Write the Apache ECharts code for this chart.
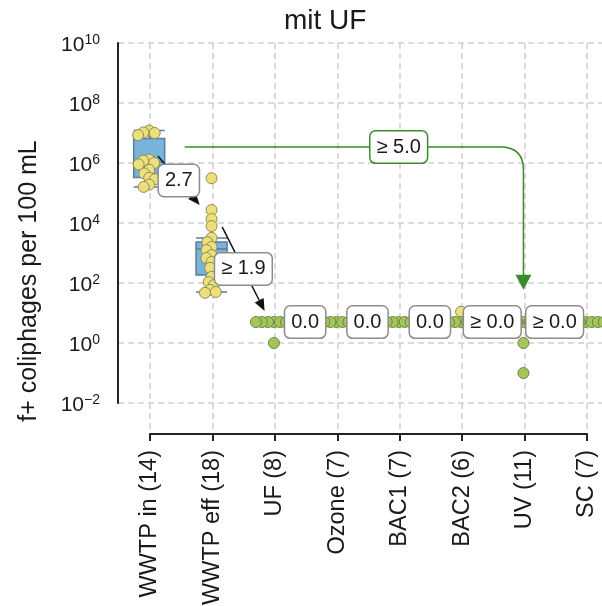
<!DOCTYPE html>
<html>
<head>
<meta charset="utf-8">
<script src="https://cdn.jsdelivr.net/npm/echarts@6/dist/echarts.min.js"></script>
<style>
  html, body { margin: 0; padding: 0; background: #fff; }
  #chart { width: 602px; height: 606px; }
</style>
</head>
<body>
<div id="chart"></div>
<script>
// Treatment train stages, with sample counts
const categories = ['WWTP in (14)', 'WWTP eff (18)', 'UF (8)', 'Ozone (7)', 'BAC1 (7)', 'BAC2 (6)', 'UV (11)', 'SC (7)'];

// Box statistics per stage: [lower whisker, Q1, median, Q3, upper whisker] (per 100 mL)
const boxWwtpIn  = [1.6e5, 3.3e5, 1.1e6, 6.6e6, 1.2e7];
const boxWwtpEff = [50, 186, 1350, 2340, 3160];
const boxUF      = [5, 5, 5, 5, 5];
const boxOzone   = [5, 5, 5, 5, 5];
const boxBAC1    = [5, 5, 5, 5, 5];
const boxBAC2    = [5, 5, 5, 5, 5];
const boxUV      = [5, 5, 5, 5, 5];
const boxSC      = [5, 5, 5, 5, 5];

// Detected samples (per 100 mL)
const detWwtpIn = [1.2e7, 1.05e7, 1.0e7, 8.5e6, 1.3e6, 1.2e6, 1.0e6, 9.0e5, 5.9e5, 4.5e5, 3.2e5, 2.9e5, 1.9e5, 1.6e5];
const detWwtpEff = [3.1e5, 2.7e4, 1.35e4, 7.9e3, 3.2e3, 2.3e3, 1.6e3, 1.25e3, 850, 680, 500, 320, 160, 107, 85, 59, 50, 47];
const detBAC2 = [11];

// Non-detects, plotted at their detection limit (per 100 mL)
const ndUF    = [5, 5, 5, 5, 5, 5, 5, 1];
const ndOzone = [5, 5, 5, 5, 5, 5, 5];
const ndBAC1  = [5, 5, 5, 5, 5, 5, 5];
const ndBAC2  = [5, 5, 5, 5, 5];
const ndUV    = [5, 5, 5, 5, 5, 5, 5, 5, 5, 1, 0.1];
const ndSC    = [5, 5, 5, 5, 5, 5, 5];

// Log reduction between consecutive stages: arrow start/end (stage position, concentration)
const stepFromX = [0.14, 1.17, 2.14, 3.14, 4.14, 5.14, 6.14];
const stepFromY = [1.7e6, 7.4e3, 5, 5, 5, 5, 5];
const stepToX   = [0.81, 1.85, 2.86, 3.86, 4.86, 5.86, 6.86];
const stepToY   = [4.0e4, 11.7, 5, 5, 5, 5, 5];
const stepText  = ['2.7', '\u2265 1.9', '0.0', '0.0', '0.0', '\u2265 0.0', '\u2265 0.0'];

// Overall reduction WWTP in -> UV
const overallFrom = [0.57, 3.4e6];
const overallTo   = [6, 59];
const overallLabelX = 4;
const overallText = '\u2265 5.0';

const FONT = '"Liberation Sans", Arial, Helvetica, sans-serif';
const INK = '#1a1a1a';
const GRID_LINE = { color: '#cfcfcf', width: 1.5, type: [6, 4] };

const boxData = [boxWwtpIn, boxWwtpEff, boxUF, boxOzone, boxBAC1, boxBAC2, boxUV, boxSC];

const detectedPoints = []
  .concat(detWwtpIn.map(v => [categories[0], v]))
  .concat(detWwtpEff.map(v => [categories[1], v]))
  .concat(detBAC2.map(v => [categories[5], v]));

const nonDetectPoints = []
  .concat(ndUF.map(v => [categories[2], v]))
  .concat(ndOzone.map(v => [categories[3], v]))
  .concat(ndBAC1.map(v => [categories[4], v]))
  .concat(ndBAC2.map(v => [categories[5], v]))
  .concat(ndUV.map(v => [categories[6], v]))
  .concat(ndSC.map(v => [categories[7], v]));

const stepData = stepFromX.map((x, i) => [x, stepFromY[i], stepToX[i], stepToY[i]]);

function arrowHead(tip, ux, uy, len, half) {
  const bx = tip[0] - ux * len, by = tip[1] - uy * len;
  return {
    base: [bx, by],
    points: [[tip[0], tip[1]], [bx - uy * half, by + ux * half], [bx + uy * half, by - ux * half]]
  };
}

function boxLabel(x, y, text, border) {
  return {
    type: 'text', x: x, y: y, z2: 10,
    style: {
      text: text, align: 'center', verticalAlign: 'middle',
      fontSize: 20, fontFamily: FONT, fill: INK,
      backgroundColor: '#fff', borderColor: border, borderWidth: 1.5, borderRadius: 5,
      padding: [6, 6, 5, 6]
    }
  };
}

const chart = echarts.init(document.getElementById('chart'), null, { renderer: 'canvas' });

chart.setOption({
  animation: false,
  backgroundColor: '#fff',
  title: {
    text: 'mit UF', left: 279, top: 2,
    textStyle: { fontSize: 28, fontWeight: 'normal', color: INK, fontFamily: FONT }
  },
  grid: [
    { left: 118, top: 43, right: -15, bottom: 203, containLabel: false, outerBoundsMode: 'none' },
    { left: 150, top: 43, right: 15, bottom: 172, containLabel: false, outerBoundsMode: 'none' }
  ],
  xAxis: [
    {
      type: 'category', gridIndex: 0, data: categories, boundaryGap: true,
      axisLine: { show: false }, axisTick: { show: false }, axisLabel: { show: false },
      splitLine: { show: false },
      jitter: 40, jitterOverlap: false, jitterMargin: -5
    },
    { type: 'value', gridIndex: 0, min: -0.5, max: 7.5, show: false },
    {
      type: 'category', gridIndex: 1, data: categories, boundaryGap: false,
      axisLine: { show: true, lineStyle: { color: '#222', width: 2 } },
      axisTick: { show: true, interval: 0, length: 7, lineStyle: { color: '#222', width: 2 } },
      axisLabel: { rotate: 90, interval: 0, margin: 16, fontSize: 23.5, color: INK, fontFamily: FONT },
      splitLine: { show: true, interval: 0, lineStyle: GRID_LINE }
    }
  ],
  yAxis: [
    {
      type: 'log', gridIndex: 0, logBase: 10, min: 0.01, max: 1e10, interval: 2,
      axisLine: { show: true, onZero: false, lineStyle: { color: '#222', width: 2 } },
      axisTick: { show: false },
      splitLine: { show: true, lineStyle: GRID_LINE },
      axisLabel: {
        margin: 18,
        formatter: function (v) {
          const e = Math.round(Math.log10(v));
          return '{b|10}{e|' + (e < 0 ? '\u2212' + (-e) : e) + '}';
        },
        rich: {
          b: { fontSize: 21, fontFamily: FONT, color: INK, lineHeight: 26, verticalAlign: 'bottom', padding: [9, 0, 0, 0] },
          e: { fontSize: 14, fontFamily: FONT, color: INK, lineHeight: 16, verticalAlign: 'top', padding: [3, 0, 0, 0] }
        }
      },
      name: 'f+ coliphages per 100 mL', nameLocation: 'middle', nameGap: 76,
      nameTextStyle: { fontSize: 25, color: INK, fontFamily: FONT, padding: [0, 116, 0, 0] }
    },
    { type: 'value', gridIndex: 1, show: false }
  ],
  series: [
    {
      type: 'boxplot', xAxisIndex: 0, yAxisIndex: 0, z: 2,
      data: boxData, boxWidth: [31, 31],
      itemStyle: { color: '#78b3dc', borderColor: '#5b7c95', borderWidth: 1.5 }
    },
    {
      type: 'scatter', xAxisIndex: 0, yAxisIndex: 0, z: 3,
      data: detectedPoints, symbolSize: 11,
      itemStyle: { color: '#ece07b', borderColor: '#8f8c5a', borderWidth: 1, opacity: 1 }
    },
    {
      type: 'scatter', xAxisIndex: 0, yAxisIndex: 0, z: 3,
      data: nonDetectPoints, symbolSize: 11,
      itemStyle: { color: '#a4c45c', borderColor: '#6d8740', borderWidth: 1, opacity: 1 }
    },
    {
      // stage-to-stage reductions
      type: 'custom', xAxisIndex: 1, yAxisIndex: 0, z: 5,
      encode: { x: [0, 2], y: [1, 3] },
      data: stepData,
      renderItem: function (params, api) {
        const p0 = api.coord([api.value(0), api.value(1)]);
        const p1 = api.coord([api.value(2), api.value(3)]);
        const children = [];
        if (api.value(1) !== api.value(3)) {
          const dx = p1[0] - p0[0], dy = p1[1] - p0[1];
          const len = Math.sqrt(dx * dx + dy * dy);
          const head = arrowHead(p1, dx / len, dy / len, 12, 5);
          children.push({ type: 'line', shape: { x1: p0[0], y1: p0[1], x2: head.base[0], y2: head.base[1] }, style: { stroke: '#111', lineWidth: 1.5 } });
          children.push({ type: 'polygon', shape: { points: head.points }, style: { fill: '#111' } });
        }
        children.push(boxLabel((p0[0] + p1[0]) / 2, (p0[1] + p1[1]) / 2, stepText[params.dataIndex], '#8c8c8c'));
        return { type: 'group', children: children };
      }
    },
    {
      // overall reduction
      type: 'custom', xAxisIndex: 1, yAxisIndex: 0, z: 4,
      encode: { x: [0, 2], y: [1, 3] },
      data: [[overallFrom[0], overallFrom[1], overallTo[0], overallTo[1]]],
      renderItem: function (params, api) {
        const p0 = api.coord([api.value(0), api.value(1)]);
        const p1 = api.coord([api.value(2), api.value(3)]);
        const lab = api.coord([overallLabelX, api.value(1)]);
        const r = 23, hl = 15, hw = 8;
        const path = 'M' + p0[0] + ',' + p0[1] +
          ' L' + (p1[0] - r) + ',' + p0[1] +
          ' Q' + p1[0] + ',' + p0[1] + ' ' + p1[0] + ',' + (p0[1] + r) +
          ' L' + p1[0] + ',' + (p1[1] - hl);
        const head = arrowHead(p1, 0, 1, hl, hw);
        return {
          type: 'group',
          children: [
            { type: 'path', shape: { pathData: path }, style: { stroke: '#3b8a2e', lineWidth: 1.5, fill: null } },
            { type: 'polygon', shape: { points: head.points }, style: { fill: '#3b8a2e' } },
            boxLabel(lab[0], lab[1], overallText, '#3b8a2e')
          ]
        };
      }
    }
  ]
});
</script>
</body>
</html>
